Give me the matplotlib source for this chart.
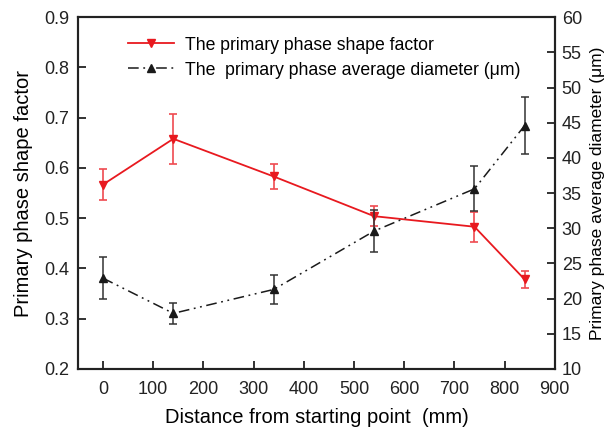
import matplotlib.pyplot as plt

plt.rcParams['font.family'] = ['Liberation Sans', 'DejaVu Sans']

# distance from starting point (mm)
distance = [0, 140, 340, 540, 740, 840]
# shape factor (left axis)
shape_factor = [0.567, 0.658, 0.583, 0.504, 0.483, 0.378]
shape_err = [0.030, 0.050, 0.025, 0.020, 0.030, 0.017]
# average diameter in um (right axis)
diameter = [22.9, 17.9, 21.3, 29.6, 35.6, 44.6]
diameter_err = [3.0, 1.5, 2.0, 3.0, 3.2, 4.0]

fig = plt.figure(figsize=(6.09, 4.30), dpi=100)
ax = fig.add_axes([0.128, 0.142, 0.783, 0.818])
ax2 = ax.twinx()

l1 = ax.errorbar(distance, shape_factor, yerr=shape_err, color='#e8191f', marker='v',
                 markersize=6, lw=1.3, ecolor='#ef4a50', elinewidth=1.2, capsize=3,
                 capthick=1.2, label='The primary phase shape factor')
l2 = ax2.errorbar(distance, diameter, yerr=diameter_err, color='#1a1a1a', marker='^',
                  markersize=6, lw=1.1, ls=(0, (7, 3, 1.2, 3, 1.2, 3)), ecolor='#333333',
                  elinewidth=1.1, capsize=3, capthick=1.1,
                  label='The  primary phase average diameter (\u03bcm)')

ax.set_xlim(-50, 900)
ax.set_ylim(0.2, 0.9)
ax2.set_ylim(10, 60)
ax.set_xticks(range(0, 901, 100))
ax.set_yticks([0.2, 0.3, 0.4, 0.5, 0.6, 0.7, 0.8, 0.9])
ax2.set_yticks(range(10, 61, 5))

ax.set_xlabel('Distance from starting point  (mm)', fontsize=14.5, labelpad=7)
ax.set_ylabel('Primary phase shape factor', fontsize=14.5, labelpad=8)
ax2.set_ylabel('Primary phase average diameter (\u03bcm)', fontsize=12.5, labelpad=6)

for a in (ax, ax2):
    for s in a.spines.values():
        s.set_linewidth(1.5)
        s.set_color('#222222')
    a.tick_params(direction='in', length=6, width=1.3, labelsize=13, colors='#222222')
ax.tick_params(axis='x', pad=9)
ax.tick_params(axis='y', pad=6)
ax2.tick_params(axis='y', pad=5)

ax.legend([l1[0], l2[0]], [l1.get_label(), l2.get_label()], loc='upper left',
          bbox_to_anchor=(0.072, 0.99), frameon=False, fontsize=12.7,
          handlelength=2.6, handletextpad=0.6, labelspacing=0.45)

fig.savefig('out.png', dpi=100)
